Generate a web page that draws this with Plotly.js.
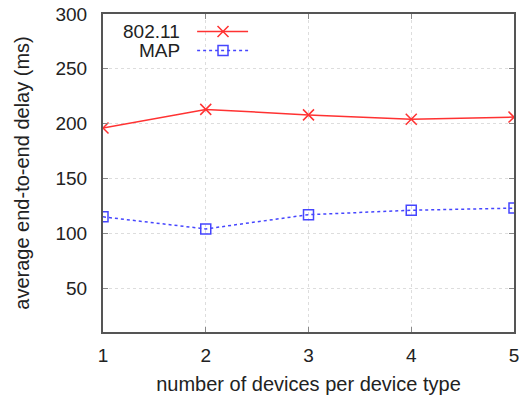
<!DOCTYPE html>
<html><head><meta charset="utf-8">
<script src="https://cdn.plot.ly/plotly-3.0.1.min.js"></script>
<style>html,body{margin:0;padding:0;background:#fff;}#chart{width:524px;height:397px;}</style>
</head><body><div id="chart"></div>
<script>
const devices = [1, 2, 3, 4, 5];
const delay80211 = [196, 213, 208, 204, 206];
const delayMAP = [115, 104, 117, 121, 123];
const seriesNames = ['802.11', 'MAP'];
const yTicks = [50, 100, 150, 200, 250, 300];

const font = 'Liberation Sans, Arial, sans-serif';
const red = 'rgb(255,50,50)';
const blue = 'rgb(70,70,255)';

const traces = [
  {x: devices, y: delay80211, mode: 'lines+markers', name: seriesNames[0],
   line: {color: red, width: 1.5},
   marker: {symbol: 'x-thin', size: 11, line: {color: red, width: 1.5}}},
  {x: devices, y: delayMAP, mode: 'lines+markers', name: seriesNames[1],
   line: {color: blue, width: 1.5, dash: 'dot'},
   marker: {symbol: 'square-open', size: 10, color: blue, line: {color: blue, width: 1.5}}},
  // legend samples on an overlay axis
  {x: [0.229, 0.292, 0.353], y: [0.945, 0.945, 0.945], xaxis: 'x2', yaxis: 'y2', mode: 'lines', showlegend: false, hoverinfo: 'skip',
   line: {color: red, width: 1.5}},
  {x: [0.292], y: [0.945], xaxis: 'x2', yaxis: 'y2', mode: 'markers', showlegend: false, hoverinfo: 'skip',
   marker: {symbol: 'x-thin', size: 11, line: {color: red, width: 1.5}}},
  {x: [0.229, 0.292, 0.353], y: [0.885, 0.885, 0.885], xaxis: 'x2', yaxis: 'y2', mode: 'lines', showlegend: false, hoverinfo: 'skip',
   line: {color: blue, width: 1.5, dash: 'dot'}},
  {x: [0.292], y: [0.885], xaxis: 'x2', yaxis: 'y2', mode: 'markers', showlegend: false, hoverinfo: 'skip',
   marker: {symbol: 'square-open', size: 10, color: blue, line: {color: blue, width: 1.5}}}
];

const layout = {
  width: 524, height: 397,
  margin: {l: 103, r: 10, t: 14, b: 65},
  paper_bgcolor: '#fff', plot_bgcolor: '#fff',
  showlegend: false,
  font: {family: font, size: 19, color: '#222'},
  xaxis: {
    range: [1, 5], tickvals: devices, ticktext: devices.map(String),
    showgrid: true, gridcolor: '#ddd', griddash: 'dot', gridwidth: 1,
    showline: true, linecolor: '#555', linewidth: 2, mirror: 'ticks',
    ticks: 'inside', ticklen: 5, tickcolor: '#888',
    zeroline: false, ticklabelstandoff: 5,
    title: {text: 'number of devices per device type', font: {size: 20, family: font, color: '#222'}, standoff: 12}
  },
  yaxis: {
    range: [10, 300], tickvals: yTicks,
    showgrid: true, gridcolor: '#ddd', griddash: 'dot', gridwidth: 1,
    showline: true, linecolor: '#555', linewidth: 2, mirror: 'ticks',
    ticks: 'inside', ticklen: 5, tickcolor: '#888',
    zeroline: false, ticklabelstandoff: 10,
    title: {text: 'average end-to-end delay (ms)', font: {size: 20, family: font, color: '#222'}, standoff: 20}
  },
  xaxis2: {range: [0, 1], overlaying: 'x', visible: false, fixedrange: true},
  yaxis2: {range: [0, 1], overlaying: 'y', visible: false, fixedrange: true},
  annotations: [
    {xref: 'paper', yref: 'paper', x: 0.192, y: 0.945, xanchor: 'right', yanchor: 'middle', showarrow: false,
     text: seriesNames[0], font: {size: 19, family: font, color: '#222'}},
    {xref: 'paper', yref: 'paper', x: 0.192, y: 0.885, xanchor: 'right', yanchor: 'middle', showarrow: false,
     text: seriesNames[1], font: {size: 19, family: font, color: '#222'}}
  ]
};

Plotly.newPlot('chart', traces, layout, {displayModeBar: false, staticPlot: true});
</script></body></html>
